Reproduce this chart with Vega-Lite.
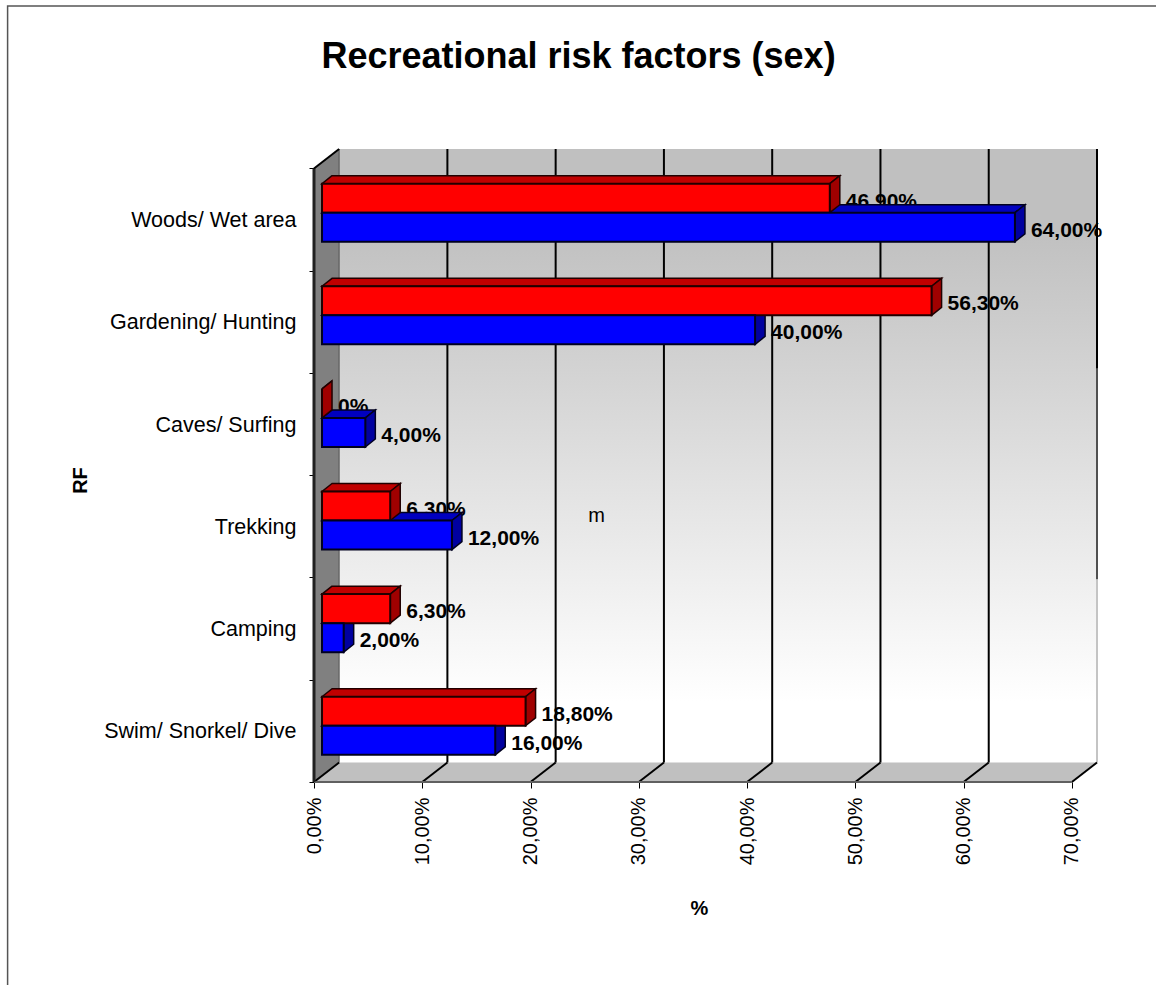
{
  "$schema": "https://vega.github.io/schema/vega-lite/v6.json",
  "autosize": {"type": "none"},
  "padding": {"left": 314, "top": 149, "right": 59, "bottom": 203},
  "width": 783,
  "height": 633,
  "background": "white",
  "view": {"stroke": null},
  "config": {"font": "Liberation Sans"},
  "title": {
    "text": "Recreational risk factors (sex)",
    "font": "Liberation Sans",
    "fontSize": 36,
    "fontWeight": "bold",
    "color": "black",
    "anchor": "middle",
    "frame": "group",
    "dx": -127,
    "offset": -71
  },
  "datasets": {
    "bars": [
      {"category": "Swim/ Snorkel/ Dive", "sex": "f", "value": 18.8},
      {"category": "Swim/ Snorkel/ Dive", "sex": "m", "value": 16},
      {"category": "Camping", "sex": "f", "value": 6.3},
      {"category": "Camping", "sex": "m", "value": 2},
      {"category": "Trekking", "sex": "f", "value": 6.3},
      {"category": "Trekking", "sex": "m", "value": 12},
      {"category": "Caves/ Surfing", "sex": "f", "value": 0},
      {"category": "Caves/ Surfing", "sex": "m", "value": 4},
      {"category": "Gardening/ Hunting", "sex": "f", "value": 56.3},
      {"category": "Gardening/ Hunting", "sex": "m", "value": 40},
      {"category": "Woods/ Wet area", "sex": "f", "value": 46.9},
      {"category": "Woods/ Wet area", "sex": "m", "value": 64}
    ],
    "ticks": [{"tick": 0}, {"tick": 10}, {"tick": 20}, {"tick": 30}, {"tick": 40}, {"tick": 50}, {"tick": 60}, {"tick": 70}],
    "edge": [{"k": 0}, {"k": 1}]
  },
  "data": {"name": "bars"},
  "layer": [
    {
      "description": "Frame along the top and left of the figure; also carries both axes",
      "data": {"values": [{"f": 1}]},
      "mark": {"type": "rect", "fill": "transparent", "stroke": "#555555", "strokeWidth": 1.5},
      "encoding": {
        "x": {"datum": -28.3, "type": "quantitative", "scale": {"domain": [0, 72.32], "nice": false, "zero": false},
          "axis": {
            "orient": "bottom", "values": [0, 10, 20, 30, 40, 50, 60, 70],
            "labelExpr": "replace(format(datum.value, '.2f'), '.', ',') + '%'",
            "labelAngle": -90, "labelAlign": "right", "labelBaseline": "middle",
            "labelFont": "Liberation Sans", "labelFontSize": 20, "labelColor": "black", "labelPadding": 9,
            "labelOverlap": false, "labelBound": false, "labelFlush": false,
            "domain": false, "grid": false, "tickColor": "black", "tickSize": 6, "tickWidth": 1,
            "title": "%", "titleFont": "Liberation Sans", "titleFontSize": 20, "titleFontWeight": "bold", "titleColor": "black",
            "titleX": 385, "titleY": 116, "titleAngle": 0
          }
        },
        "x2": {"datum": 80},
        "y": {"datum": -2.2, "type": "quantitative", "scale": {"domain": [0, 6.19], "nice": false, "zero": false},
          "axis": {
            "orient": "left", "values": [0, 0.5, 1, 1.5, 2, 2.5, 3, 3.5, 4, 4.5, 5, 5.5, 6],
            "labelExpr": "datum.value % 1 == 0 ? '' : ['Swim/ Snorkel/ Dive', 'Camping', 'Trekking', 'Caves/ Surfing', 'Gardening/ Hunting', 'Woods/ Wet area'][floor(datum.value)]",
            "labelFont": "Liberation Sans", "labelFontSize": 21.5, "labelColor": "black", "labelPadding": 13, "labelLimit": 260, "labelOffset": 1,
            "labelOverlap": false, "labelBound": false, "labelFlush": false,
            "domain": false, "grid": false, "tickSize": 5, "tickWidth": 1, "tickColor": "black",
            "tickOpacity": {"condition": {"test": "datum.value % 1 == 0", "value": 1}, "value": 0},
            "title": "RF", "titleFont": "Liberation Sans", "titleFontSize": 20, "titleFontWeight": "bold", "titleColor": "black",
            "titleX": -224, "titleY": 331, "titleAngle": -90
          }
        },
        "y2": {"datum": 7.588}
      }
    },
    {
      "description": "Back wall with its vertical shading",
      "data": {"values": [{"f": 1}]},
      "mark": {
        "type": "rect",
        "fill": {
          "gradient": "linear", "x1": 0, "y1": 0, "x2": 0, "y2": 1,
          "stops": [
            {"offset": 0, "color": "#c0c0c0"},
            {"offset": 0.13, "color": "#c0c0c0"},
            {"offset": 0.9, "color": "#ffffff"},
            {"offset": 1, "color": "#ffffff"}
          ]
        }
      },
      "encoding": {
        "x": {"datum": 2.32, "type": "quantitative", "scale": {"domain": [0, 72.32], "nice": false, "zero": false}},
        "x2": {"datum": 72.32},
        "y": {"datum": 0.19, "type": "quantitative", "scale": {"domain": [0, 6.19], "nice": false, "zero": false}},
        "y2": {"datum": 6.19}
      }
    },
    {
      "description": "Floor of the plot box",
      "data": {"name": "edge"},
      "transform": [
        {"calculate": "datum.k * 2.32", "as": "xa"},
        {"calculate": "70 + datum.k * 2.32", "as": "xb"},
        {"calculate": "datum.k * 0.19", "as": "yy"}
      ],
      "mark": {"type": "area", "orient": "horizontal", "fill": "#c0c0c0"},
      "encoding": {
        "y": {"field": "yy", "type": "quantitative", "scale": {"domain": [0, 6.19], "nice": false, "zero": false}},
        "x": {"field": "xa", "type": "quantitative", "scale": {"domain": [0, 72.32], "nice": false, "zero": false}},
        "x2": {"field": "xb"}
      }
    },
    {
      "description": "Left side wall of the plot box",
      "data": {"name": "edge"},
      "transform": [
        {"calculate": "datum.k * 2.32", "as": "xx"},
        {"calculate": "datum.k * 0.19", "as": "ya"},
        {"calculate": "6 + datum.k * 0.19", "as": "yb"}
      ],
      "mark": {"type": "area", "orient": "vertical", "fill": "#808080"},
      "encoding": {
        "x": {"field": "xx", "type": "quantitative", "scale": {"domain": [0, 72.32], "nice": false, "zero": false}},
        "y": {"field": "ya", "type": "quantitative", "scale": {"domain": [0, 6.19], "nice": false, "zero": false}},
        "y2": {"field": "yb"}
      }
    },
    {
      "description": "Gridlines up the back wall",
      "data": {"name": "ticks"},
      "transform": [{"filter": "datum.tick > 0 && datum.tick < 70"}, {"calculate": "datum.tick + 2.32", "as": "back"}],
      "mark": {"type": "rule", "color": "black", "strokeWidth": 2},
      "encoding": {
        "x": {"field": "back", "type": "quantitative", "scale": {"domain": [0, 72.32], "nice": false, "zero": false}},
        "y": {"datum": 0.19, "type": "quantitative", "scale": {"domain": [0, 6.19], "nice": false, "zero": false}},
        "y2": {"datum": 6.19}
      }
    },
    {
      "description": "Thin seam where the side wall meets the back wall",
      "data": {"name": "ticks"},
      "transform": [{"filter": "datum.tick == 0"}, {"calculate": "datum.tick + 2.32", "as": "back"}],
      "mark": {"type": "rule", "color": "#505050", "strokeWidth": 1},
      "encoding": {
        "x": {"field": "back", "type": "quantitative", "scale": {"domain": [0, 72.32], "nice": false, "zero": false}},
        "y": {"datum": 0.19, "type": "quantitative", "scale": {"domain": [0, 6.19], "nice": false, "zero": false}},
        "y2": {"datum": 6.19}
      }
    },
    {
      "description": "Right edge of the back wall, dark at the top and pale near the floor",
      "data": {"values": [
        {"part": "upper", "back": 72.32, "from": 4.04, "to": 6.19},
        {"part": "middle", "back": 72.32, "from": 1.98, "to": 4.04},
        {"part": "lower", "back": 72.32, "from": 0.19, "to": 1.98}
      ]},
      "mark": {"type": "rule", "strokeWidth": 2},
      "encoding": {
        "x": {"field": "back", "type": "quantitative", "scale": {"domain": [0, 72.32], "nice": false, "zero": false}},
        "y": {"field": "from", "type": "quantitative", "scale": {"domain": [0, 6.19], "nice": false, "zero": false}},
        "y2": {"field": "to"},
        "color": {"field": "part", "type": "nominal", "scale": {"domain": ["upper", "middle", "lower"], "range": ["#000000", "#505050", "#c4c4c4"]}, "legend": null}
      }
    },
    {
      "description": "Gridlines across the floor",
      "data": {"name": "ticks"},
      "transform": [{"calculate": "datum.tick + 2.32", "as": "back"}],
      "mark": {"type": "rule", "color": "black", "strokeWidth": 2},
      "encoding": {
        "x": {"field": "tick", "type": "quantitative", "scale": {"domain": [0, 72.32], "nice": false, "zero": false}},
        "x2": {"field": "back"},
        "y": {"datum": 0, "type": "quantitative", "scale": {"domain": [0, 6.19], "nice": false, "zero": false}},
        "y2": {"datum": 0.19}
      }
    },
    {
      "description": "Front edge of the box along the value axis",
      "data": {"name": "ticks"},
      "transform": [{"filter": "datum.tick == 0"}],
      "mark": {"type": "rule", "color": "#606060", "strokeWidth": 2},
      "encoding": {
        "x": {"datum": 0, "type": "quantitative", "scale": {"domain": [0, 72.32], "nice": false, "zero": false}},
        "x2": {"datum": 70},
        "y": {"datum": 0, "type": "quantitative", "scale": {"domain": [0, 6.19], "nice": false, "zero": false}}
      }
    },
    {
      "description": "Left front edge of the box",
      "data": {"name": "ticks"},
      "transform": [{"filter": "datum.tick == 0"}],
      "mark": {"type": "rule", "color": "#202020", "strokeWidth": 3},
      "encoding": {
        "x": {"datum": 0, "type": "quantitative", "scale": {"domain": [0, 72.32], "nice": false, "zero": false}},
        "y": {"datum": 0, "type": "quantitative", "scale": {"domain": [0, 6.19], "nice": false, "zero": false}},
        "y2": {"datum": 6}
      }
    },
    {
      "description": "Top slanted edge of the side wall",
      "data": {"name": "ticks"},
      "transform": [{"filter": "datum.tick == 0"}],
      "mark": {"type": "rule", "color": "black", "strokeWidth": 2},
      "encoding": {
        "x": {"datum": 0, "type": "quantitative", "scale": {"domain": [0, 72.32], "nice": false, "zero": false}},
        "x2": {"datum": 2.32},
        "y": {"datum": 6, "type": "quantitative", "scale": {"domain": [0, 6.19], "nice": false, "zero": false}},
        "y2": {"datum": 6.19}
      }
    },
    {
      "description": "Female value labels, which sit behind the male bars",
      "transform": [
        {"filter": "datum.sex == 'f'"},
        {"calculate": "indexof(['Swim/ Snorkel/ Dive', 'Camping', 'Trekking', 'Caves/ Surfing', 'Gardening/ Hunting', 'Woods/ Wet area'], datum.category)", "as": "idx"},
        {"calculate": "0.55 + 1.0034 * datum.idx", "as": "base"},
        {"calculate": "0.74 + datum.value", "as": "end"},
        {"calculate": "datum.value == 0 ? '0%' : replace(format(datum.value, '.2f'), '.', ',') + '%'", "as": "label"}
      ],
      "mark": {"type": "text", "align": "left", "baseline": "middle", "dx": 16, "dy": -11, "fontSize": 21, "fontWeight": "bold", "font": "Liberation Sans", "color": "black"},
      "encoding": {
        "x": {"field": "end", "type": "quantitative", "scale": {"domain": [0, 72.32], "nice": false, "zero": false}},
        "y": {"field": "base", "type": "quantitative", "scale": {"domain": [0, 6.19], "nice": false, "zero": false}},
        "text": {"field": "label"}
      }
    },
    {
      "description": "Male bars: top and side faces, which pass behind the female bars",
      "transform": [
        {"filter": "datum.sex == 'm'"},
        {"calculate": "indexof(['Swim/ Snorkel/ Dive', 'Camping', 'Trekking', 'Caves/ Surfing', 'Gardening/ Hunting', 'Woods/ Wet area'], datum.category)", "as": "idx"},
        {"calculate": "0.55 + 1.0034 * datum.idx", "as": "top"},
        {"calculate": "datum.top - 0.284", "as": "base"},
        {"calculate": "0.74 + datum.value", "as": "end"},
        {"calculate": "[0, 1]", "as": "k"},
        {"flatten": ["k"]}
      ],
      "layer": [
        {
          "transform": [
            {"calculate": "datum.top + datum.k * 0.078", "as": "yy"},
            {"calculate": "0.74 + datum.k * 0.925", "as": "xa"},
            {"calculate": "datum.end + datum.k * 0.925", "as": "xb"}
          ],
          "mark": {"type": "area", "orient": "horizontal", "fill": "#0000c0", "stroke": "#000020", "strokeWidth": 1.5},
          "encoding": {
            "detail": {"field": "category"},
            "y": {"field": "yy", "type": "quantitative", "scale": {"domain": [0, 6.19], "nice": false, "zero": false}},
            "x": {"field": "xa", "type": "quantitative", "scale": {"domain": [0, 72.32], "nice": false, "zero": false}},
            "x2": {"field": "xb"}
          }
        },
        {
          "transform": [
            {"calculate": "datum.end + datum.k * 0.925", "as": "xx"},
            {"calculate": "datum.base + datum.k * 0.078", "as": "ya"},
            {"calculate": "datum.top + datum.k * 0.078", "as": "yb"}
          ],
          "mark": {"type": "area", "orient": "vertical", "fill": "#0000a0", "stroke": "#000020", "strokeWidth": 1.5},
          "encoding": {
            "detail": {"field": "category"},
            "x": {"field": "xx", "type": "quantitative", "scale": {"domain": [0, 72.32], "nice": false, "zero": false}},
            "y": {"field": "ya", "type": "quantitative", "scale": {"domain": [0, 6.19], "nice": false, "zero": false}},
            "y2": {"field": "yb"}
          }
        }
      ]
    },
    {
      "description": "Female bars: top, side and front faces",
      "transform": [
        {"filter": "datum.sex == 'f'"},
        {"calculate": "indexof(['Swim/ Snorkel/ Dive', 'Camping', 'Trekking', 'Caves/ Surfing', 'Gardening/ Hunting', 'Woods/ Wet area'], datum.category)", "as": "idx"},
        {"calculate": "0.55 + 1.0034 * datum.idx", "as": "base"},
        {"calculate": "datum.base + 0.284", "as": "top"},
        {"calculate": "0.74", "as": "start"},
        {"calculate": "0.74 + datum.value", "as": "end"}
      ],
      "layer": [
        {
          "transform": [
            {"calculate": "[0, 1]", "as": "k"},
            {"flatten": ["k"]},
            {"calculate": "datum.top + datum.k * 0.078", "as": "yy"},
            {"calculate": "0.74 + datum.k * 0.925", "as": "xa"},
            {"calculate": "datum.end + datum.k * 0.925", "as": "xb"}
          ],
          "mark": {"type": "area", "orient": "horizontal", "fill": "#c00000", "stroke": "#200000", "strokeWidth": 1.5},
          "encoding": {
            "detail": {"field": "category"},
            "y": {"field": "yy", "type": "quantitative", "scale": {"domain": [0, 6.19], "nice": false, "zero": false}},
            "x": {"field": "xa", "type": "quantitative", "scale": {"domain": [0, 72.32], "nice": false, "zero": false}},
            "x2": {"field": "xb"}
          }
        },
        {
          "transform": [
            {"calculate": "[0, 1]", "as": "k"},
            {"flatten": ["k"]},
            {"calculate": "datum.end + datum.k * 0.925", "as": "xx"},
            {"calculate": "datum.base + datum.k * 0.078", "as": "ya"},
            {"calculate": "datum.top + datum.k * 0.078", "as": "yb"}
          ],
          "mark": {"type": "area", "orient": "vertical", "fill": "#a00000", "stroke": "#200000", "strokeWidth": 1.5},
          "encoding": {
            "detail": {"field": "category"},
            "x": {"field": "xx", "type": "quantitative", "scale": {"domain": [0, 72.32], "nice": false, "zero": false}},
            "y": {"field": "ya", "type": "quantitative", "scale": {"domain": [0, 6.19], "nice": false, "zero": false}},
            "y2": {"field": "yb"}
          }
        },
        {
          "mark": {"type": "rect", "fill": "#ff0000", "stroke": "#200000", "strokeWidth": 2},
          "encoding": {
            "x": {"field": "start", "type": "quantitative", "scale": {"domain": [0, 72.32], "nice": false, "zero": false}},
            "x2": {"field": "end"},
            "y": {"field": "base", "type": "quantitative", "scale": {"domain": [0, 6.19], "nice": false, "zero": false}},
            "y2": {"field": "top"}
          }
        }
      ]
    },
    {
      "description": "Male bars: front faces and value labels",
      "transform": [
        {"filter": "datum.sex == 'm'"},
        {"calculate": "indexof(['Swim/ Snorkel/ Dive', 'Camping', 'Trekking', 'Caves/ Surfing', 'Gardening/ Hunting', 'Woods/ Wet area'], datum.category)", "as": "idx"},
        {"calculate": "0.55 + 1.0034 * datum.idx", "as": "top"},
        {"calculate": "datum.top - 0.284", "as": "base"},
        {"calculate": "0.74", "as": "start"},
        {"calculate": "0.74 + datum.value", "as": "end"},
        {"calculate": "replace(format(datum.value, '.2f'), '.', ',') + '%'", "as": "label"}
      ],
      "layer": [
        {
          "mark": {"type": "rect", "fill": "#0000ff", "stroke": "#000020", "strokeWidth": 2},
          "encoding": {
            "x": {"field": "start", "type": "quantitative", "scale": {"domain": [0, 72.32], "nice": false, "zero": false}},
            "x2": {"field": "end"},
            "y": {"field": "base", "type": "quantitative", "scale": {"domain": [0, 6.19], "nice": false, "zero": false}},
            "y2": {"field": "top"}
          }
        },
        {
          "mark": {"type": "text", "align": "left", "baseline": "middle", "dx": 16, "dy": -11, "fontSize": 21, "fontWeight": "bold", "font": "Liberation Sans", "color": "black"},
          "encoding": {
            "x": {"field": "end", "type": "quantitative", "scale": {"domain": [0, 72.32], "nice": false, "zero": false}},
            "y": {"field": "base", "type": "quantitative", "scale": {"domain": [0, 6.19], "nice": false, "zero": false}},
            "text": {"field": "label"}
          }
        }
      ]
    },
    {
      "description": "Series letter on the back wall",
      "data": {"values": [{"note": "m", "vx": 26.1, "vy": 2.6}]},
      "mark": {"type": "text", "align": "center", "baseline": "middle", "fontSize": 20, "font": "Liberation Sans", "color": "black"},
      "encoding": {
        "x": {"field": "vx", "type": "quantitative", "scale": {"domain": [0, 72.32], "nice": false, "zero": false}},
        "y": {"field": "vy", "type": "quantitative", "scale": {"domain": [0, 6.19], "nice": false, "zero": false}},
        "text": {"field": "note"}
      }
    }
  ]
}
